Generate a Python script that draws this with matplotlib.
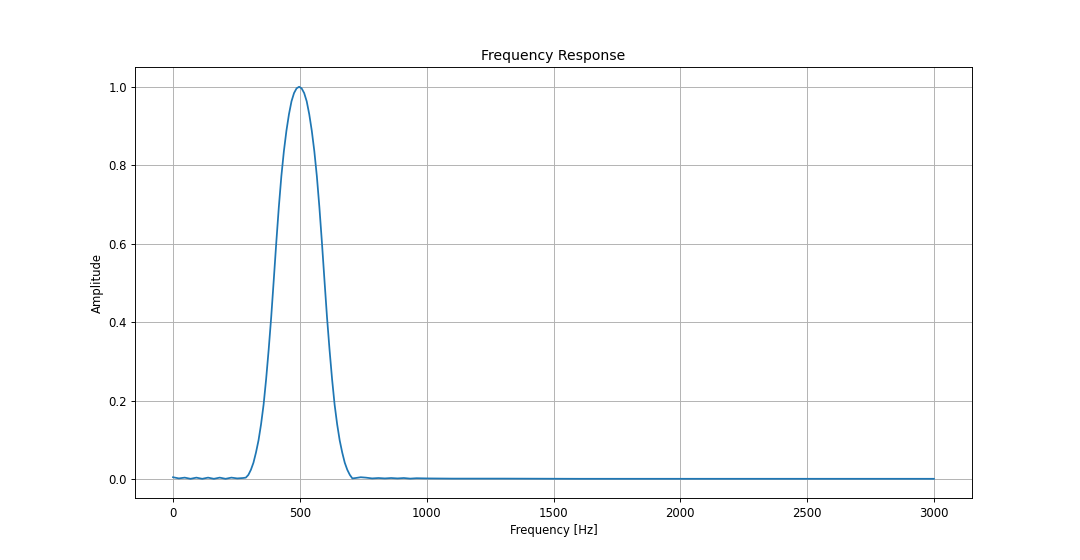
import numpy as np
import matplotlib
matplotlib.use("Agg")
import matplotlib.pyplot as plt

# values
freqs = [0, 23, 46, 69, 92, 115, 138, 161, 184, 207, 230, 253, 276,
         287, 297, 307, 317, 327, 337, 347, 357, 367, 377, 387, 397,
         407, 417, 427, 437, 447, 457, 467, 477, 487, 497,
         507, 517, 527, 537, 547, 557, 567, 577, 587, 597,
         607, 617, 627, 637, 647, 657, 667, 677, 687, 697, 707,
         720, 740, 760, 785, 810, 835, 860, 885, 910, 935, 960,
         1000, 1100, 1300, 1600, 2000, 2500, 3000]
amps = [0.005, 0.002, 0.004, 0.001, 0.004, 0.001, 0.004, 0.001, 0.004, 0.001, 0.004, 0.002, 0.003,
        0.004, 0.011, 0.024, 0.042, 0.068, 0.099, 0.140, 0.190, 0.255, 0.330, 0.413, 0.507,
        0.603, 0.693, 0.772, 0.836, 0.888, 0.930, 0.963, 0.984, 0.996, 1.000,
        0.996, 0.984, 0.963, 0.930, 0.888, 0.836, 0.772, 0.693, 0.603, 0.507,
        0.413, 0.330, 0.255, 0.190, 0.140, 0.099, 0.068, 0.042, 0.024, 0.011, 0.002,
        0.003, 0.005, 0.004, 0.002, 0.003, 0.002, 0.003, 0.002, 0.003, 0.0015, 0.0025,
        0.002, 0.0015, 0.0015, 0.001, 0.001, 0.001, 0.001]

# reference looks like a bigger figure shrunk down, so use a lower dpi
dpi = 84
plt.figure(figsize=(1080 / dpi, 560 / dpi), dpi=dpi)
plt.plot(freqs, amps)
plt.title("Frequency Response")
plt.xlabel("Frequency [Hz]")
plt.ylabel("Amplitude")
plt.grid(True)
plt.savefig("out.png", dpi=dpi)
